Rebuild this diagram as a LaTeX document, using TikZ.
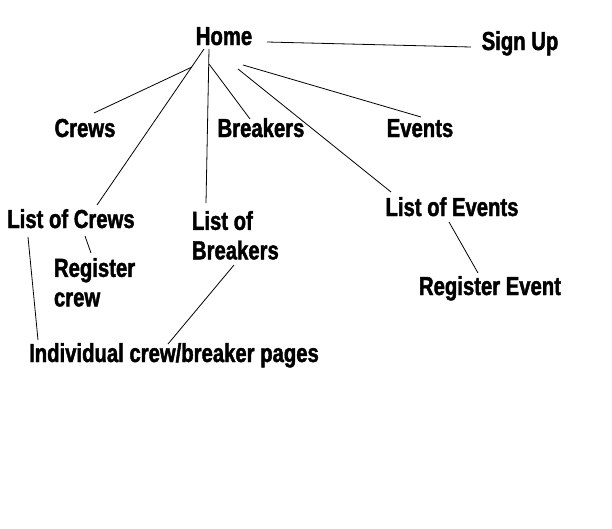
\documentclass[tikz,border=0pt]{standalone}
\usepackage{fontspec}
\setmainfont{Liberation Sans}[FakeStretch=0.78, BoldFeatures={FakeBold=1.6}]
\usepackage{tikz}
\usetikzlibrary{positioning}

\begin{document}
\begin{tikzpicture}[
    x=1pt, y=-1pt,
    pg/.style={inner sep=0pt, outer sep=0pt, align=left,
               font=\fontsize{26}{29.5}\selectfont\bfseries, text=black},
    ln/.style={draw=black, line width=0.8pt}
]
\useasboundingbox[fill=white] (0,0) rectangle (612,528);

% pages
\node[pg, anchor=base] (home)   at (224,45)  {Home};
\node[pg, anchor=base] (signup) at (520,50)  {Sign Up};
\node[pg, anchor=base] (crews)  at (85,137)  {Crews};
\node[pg, anchor=base] (brk)    at (261,137) {Breakers};
\node[pg, anchor=base] (evts)   at (420,137) {Events};
\node[pg, anchor=base] (loc)    at (71,228)  {List of Crews};
\node[pg, anchor=north west] (lob) at (192,211) {List of\\Breakers};
\node[pg, anchor=north west] (regc) at (54,258) {Register\\crew};
\node[pg, anchor=base] (loe)    at (452,216) {List of Events};
\node[pg, anchor=base] (rege)   at (490,295) {Register Event};
\node[pg, anchor=base] (indiv)  at (174,362) {Individual crew/breaker pages};

% links
\draw[ln] ([shift={(43,-3)}]home.base)   -- ([shift={(-49,-3)}]signup.base);
\draw[ln] ([shift={(-32,22)}]home.base)  -- ([shift={(9,-24)}]crews.base);
\draw[ln] ([shift={(-20,4)}]home.base)   -- ([shift={(26,-23)}]loc.base);
\draw[ln] ([shift={(-15,4)}]home.base)   -- ([shift={(14,-8)}]lob.north west);
\draw[ln] ([shift={(-15,19)}]home.base)  -- ([shift={(-11,-18)}]brk.base);
\draw[ln] ([shift={(14,24)}]home.base)   -- ([shift={(-61,-24)}]loe.base);
\draw[ln] ([shift={(19,20)}]home.base)   -- ([shift={(1,-20)}]evts.base);
\draw[ln] ([shift={(14,8)}]loc.base)     -- ([shift={(37,-5)}]regc.north west);
\draw[ln] ([shift={(-43,9)}]loc.base)    -- ([shift={(-136,-22)}]indiv.base);
\draw[ln] ([shift={(42,54)}]lob.north west) -- ([shift={(-6,-18)}]indiv.base);
\draw[ln] ([shift={(-3,6)}]loe.base)     -- ([shift={(-12,-22)}]rege.base);
\end{tikzpicture}
\end{document}
